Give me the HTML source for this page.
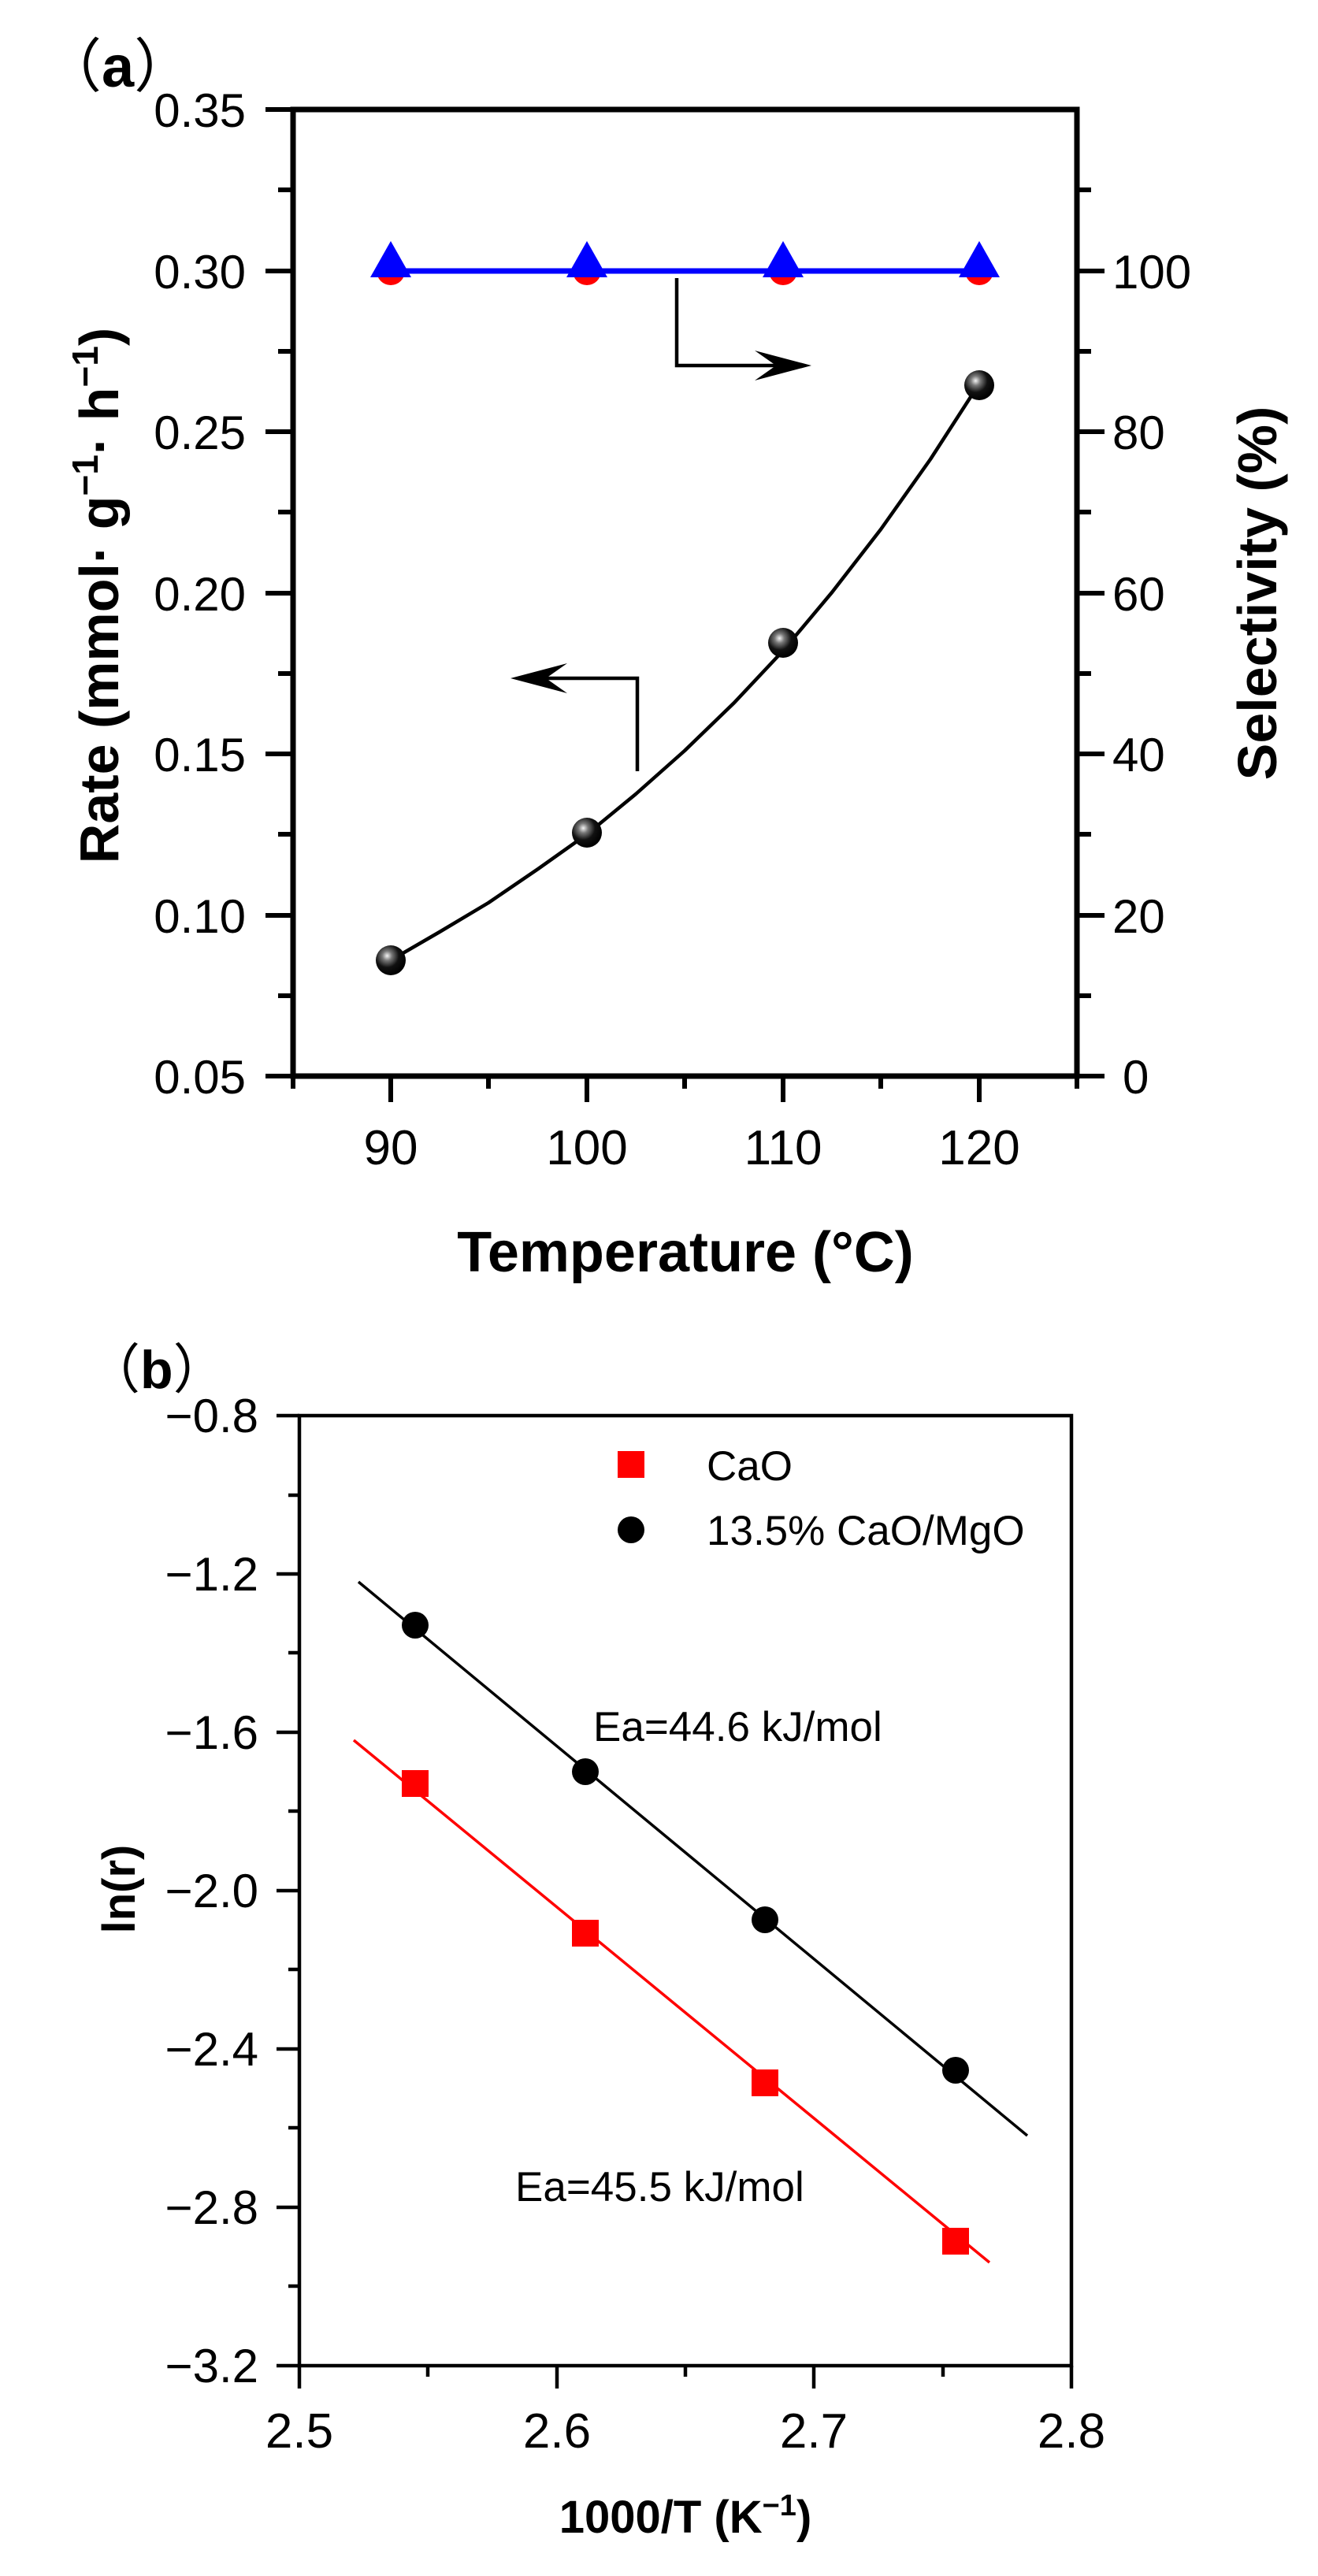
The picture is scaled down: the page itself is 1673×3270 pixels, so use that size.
<!DOCTYPE html>
<html><head><meta charset="utf-8"><style>
html,body{margin:0;padding:0;background:#fff;}
svg{display:block;}
text{font-family:"Liberation Sans",Arial,sans-serif;fill:#000;}
</style></head><body>
<svg width="1673" height="3270" viewBox="0 0 1673 3270" xmlns="http://www.w3.org/2000/svg">
<defs>
<radialGradient id="ball" cx="0.38" cy="0.35" r="0.65">
<stop offset="0" stop-color="#f4f4f4"/>
<stop offset="0.25" stop-color="#777"/>
<stop offset="0.6" stop-color="#111"/>
<stop offset="1" stop-color="#000"/>
</radialGradient>
</defs>

<!-- ===== Panel a ===== -->
<text x="55" y="110" font-size="74" font-weight="bold" font-family="Liberation Sans, Noto Sans CJK JP, sans-serif"><tspan font-weight="normal" font-family="Noto Sans CJK JP, sans-serif">（</tspan>a<tspan font-weight="normal" font-family="Noto Sans CJK JP, sans-serif">）</tspan></text>
<g stroke="#000" stroke-width="7" fill="none" stroke-linecap="square">
<rect x="372" y="139" width="995" height="1227"/>
</g>
<g stroke="#000" stroke-width="6">
<line x1="337" y1="139" x2="372" y2="139"/>
<line x1="337" y1="344" x2="372" y2="344"/>
<line x1="337" y1="548" x2="372" y2="548"/>
<line x1="337" y1="753" x2="372" y2="753"/>
<line x1="337" y1="957" x2="372" y2="957"/>
<line x1="337" y1="1162" x2="372" y2="1162"/>
<line x1="337" y1="1366" x2="372" y2="1366"/>
<line x1="353" y1="241" x2="372" y2="241"/>
<line x1="353" y1="446" x2="372" y2="446"/>
<line x1="353" y1="650" x2="372" y2="650"/>
<line x1="353" y1="855" x2="372" y2="855"/>
<line x1="353" y1="1059" x2="372" y2="1059"/>
<line x1="353" y1="1264" x2="372" y2="1264"/>
<line x1="1367" y1="1366" x2="1402" y2="1366"/>
<line x1="1367" y1="1162" x2="1402" y2="1162"/>
<line x1="1367" y1="957" x2="1402" y2="957"/>
<line x1="1367" y1="753" x2="1402" y2="753"/>
<line x1="1367" y1="548" x2="1402" y2="548"/>
<line x1="1367" y1="344" x2="1402" y2="344"/>
<line x1="1367" y1="1264" x2="1385" y2="1264"/>
<line x1="1367" y1="1059" x2="1385" y2="1059"/>
<line x1="1367" y1="855" x2="1385" y2="855"/>
<line x1="1367" y1="650" x2="1385" y2="650"/>
<line x1="1367" y1="446" x2="1385" y2="446"/>
<line x1="1367" y1="241" x2="1385" y2="241"/>
<line x1="496" y1="1366" x2="496" y2="1399"/>
<line x1="745" y1="1366" x2="745" y2="1399"/>
<line x1="994" y1="1366" x2="994" y2="1399"/>
<line x1="1243" y1="1366" x2="1243" y2="1399"/>
<line x1="372" y1="1366" x2="372" y2="1382"/>
<line x1="620" y1="1366" x2="620" y2="1382"/>
<line x1="869" y1="1366" x2="869" y2="1382"/>
<line x1="1118" y1="1366" x2="1118" y2="1382"/>
<line x1="1367" y1="1366" x2="1367" y2="1382"/>
</g>
<g font-size="60" text-anchor="end">
<text x="312" y="161">0.35</text>
<text x="312" y="366">0.30</text>
<text x="312" y="570">0.25</text>
<text x="312" y="775">0.20</text>
<text x="312" y="979">0.15</text>
<text x="312" y="1184">0.10</text>
<text x="312" y="1388">0.05</text>
</g>
<g font-size="60">
<text x="1412" y="366">100</text>
<text x="1412" y="570">80</text>
<text x="1412" y="775">60</text>
<text x="1412" y="979">40</text>
<text x="1412" y="1184">20</text>
<text x="1425" y="1388">0</text>
</g>
<g font-size="62" text-anchor="middle">
<text x="496" y="1478">90</text>
<text x="745" y="1478">100</text>
<text x="994" y="1478">110</text>
<text x="1243" y="1478">120</text>
</g>
<text x="870" y="1614" font-size="72" font-weight="bold" text-anchor="middle">Temperature (°C)</text>
<text transform="translate(150,756) rotate(-90)" font-size="70" font-weight="bold" text-anchor="middle">Rate (mmol· g<tspan dy="-26" font-size="46">−1</tspan><tspan dy="26">· h</tspan><tspan dy="-26" font-size="46">−1</tspan><tspan dy="26">)</tspan></text>
<text transform="translate(1620,753) rotate(-90)" font-size="70" font-weight="bold" text-anchor="middle">Selectivity (%)</text>

<line x1="496" y1="344" x2="1243" y2="344" stroke="#0000ff" stroke-width="7"/>
<g fill="#ff0000">
<circle cx="496" cy="344" r="18"/><circle cx="745" cy="344" r="18"/><circle cx="994" cy="344" r="18"/><circle cx="1243" cy="344" r="18"/>
</g>
<g fill="#0000ff">
<polygon points="496,306 470,352 522,352"/>
<polygon points="745,306 719,352 771,352"/>
<polygon points="994,306 968,352 1020,352"/>
<polygon points="1243,306 1217,352 1269,352"/>
</g>
<polyline points="496,1219 558,1183 620,1146 683,1103 745,1059 807,1008 869,953 932,892 994,826 1056,752 1118,672 1181,583 1243,487" fill="none" stroke="#000" stroke-width="4.5" stroke-linejoin="round"/>
<circle cx="496" cy="1219" r="19" fill="url(#ball)"/>
<circle cx="745" cy="1057" r="19" fill="url(#ball)"/>
<circle cx="994" cy="816" r="19" fill="url(#ball)"/>
<circle cx="1243" cy="489" r="19" fill="url(#ball)"/>
<polyline points="859,353 859,464 1020,464" fill="none" stroke="#000" stroke-width="4.5"/>
<polygon points="1030,464 958,445 985,464 958,483" fill="#000"/>
<polyline points="809,979 809,861 660,861" fill="none" stroke="#000" stroke-width="4.5"/>
<polygon points="648,861 720,842 693,861 720,880" fill="#000"/>

<!-- ===== Panel b ===== -->
<text x="110" y="1762" font-size="68" font-weight="bold" font-family="Liberation Sans, Noto Sans CJK JP, sans-serif"><tspan font-weight="normal" font-family="Noto Sans CJK JP, sans-serif">（</tspan>b<tspan font-weight="normal" font-family="Noto Sans CJK JP, sans-serif">）</tspan></text>
<rect x="380" y="1797" width="980" height="1206" fill="none" stroke="#000" stroke-width="4.5"/>
<g stroke="#000" stroke-width="4.5">
<line x1="351" y1="1797" x2="380" y2="1797"/>
<line x1="351" y1="1998" x2="380" y2="1998"/>
<line x1="351" y1="2199" x2="380" y2="2199"/>
<line x1="351" y1="2400" x2="380" y2="2400"/>
<line x1="351" y1="2601" x2="380" y2="2601"/>
<line x1="351" y1="2802" x2="380" y2="2802"/>
<line x1="351" y1="3003" x2="380" y2="3003"/>
<line x1="366" y1="1898" x2="380" y2="1898"/>
<line x1="366" y1="2098" x2="380" y2="2098"/>
<line x1="366" y1="2299" x2="380" y2="2299"/>
<line x1="366" y1="2500" x2="380" y2="2500"/>
<line x1="366" y1="2701" x2="380" y2="2701"/>
<line x1="366" y1="2902" x2="380" y2="2902"/>
<line x1="380" y1="3003" x2="380" y2="3032"/>
<line x1="707" y1="3003" x2="707" y2="3032"/>
<line x1="1033" y1="3003" x2="1033" y2="3032"/>
<line x1="1360" y1="3003" x2="1360" y2="3032"/>
<line x1="543" y1="3003" x2="543" y2="3017"/>
<line x1="870" y1="3003" x2="870" y2="3017"/>
<line x1="1197" y1="3003" x2="1197" y2="3017"/>
</g>
<g font-size="60" text-anchor="end">
<text x="328" y="1818">−0.8</text>
<text x="328" y="2019">−1.2</text>
<text x="328" y="2220">−1.6</text>
<text x="328" y="2421">−2.0</text>
<text x="328" y="2622">−2.4</text>
<text x="328" y="2823">−2.8</text>
<text x="328" y="3024">−3.2</text>
</g>
<g font-size="62" text-anchor="middle">
<text x="380" y="3107">2.5</text>
<text x="707" y="3107">2.6</text>
<text x="1033" y="3107">2.7</text>
<text x="1360" y="3107">2.8</text>
</g>
<text x="870" y="3215" font-size="58" font-weight="bold" text-anchor="middle">1000/T (K<tspan dy="-22" font-size="38">−1</tspan><tspan dy="22">)</tspan></text>
<text transform="translate(171,2398) rotate(-90)" font-size="58" font-weight="bold" text-anchor="middle">ln(r)</text>

<rect x="784" y="1842" width="34" height="34" fill="#ff0000"/>
<text x="897" y="1879" font-size="53">CaO</text>
<circle cx="801" cy="1942" r="17" fill="#000"/>
<text x="897" y="1961" font-size="53">13.5% CaO/MgO</text>

<line x1="455" y1="2008" x2="1304" y2="2711" stroke="#000" stroke-width="3.5"/>
<line x1="449" y1="2209" x2="1256" y2="2872" stroke="#ff0000" stroke-width="3.5"/>
<g fill="#000">
<circle cx="527" cy="2063" r="17"/>
<circle cx="743" cy="2249" r="17"/>
<circle cx="971" cy="2437" r="17"/>
<circle cx="1213" cy="2628" r="17"/>
</g>
<g fill="#ff0000">
<rect x="510" y="2247" width="34" height="34"/>
<rect x="726" y="2437" width="34" height="34"/>
<rect x="954" y="2627" width="34" height="34"/>
<rect x="1196" y="2828" width="34" height="34"/>
</g>
<text x="753" y="2210" font-size="53">Ea=44.6 kJ/mol</text>
<text x="654" y="2794" font-size="53">Ea=45.5 kJ/mol</text>
</svg>
</body></html>
